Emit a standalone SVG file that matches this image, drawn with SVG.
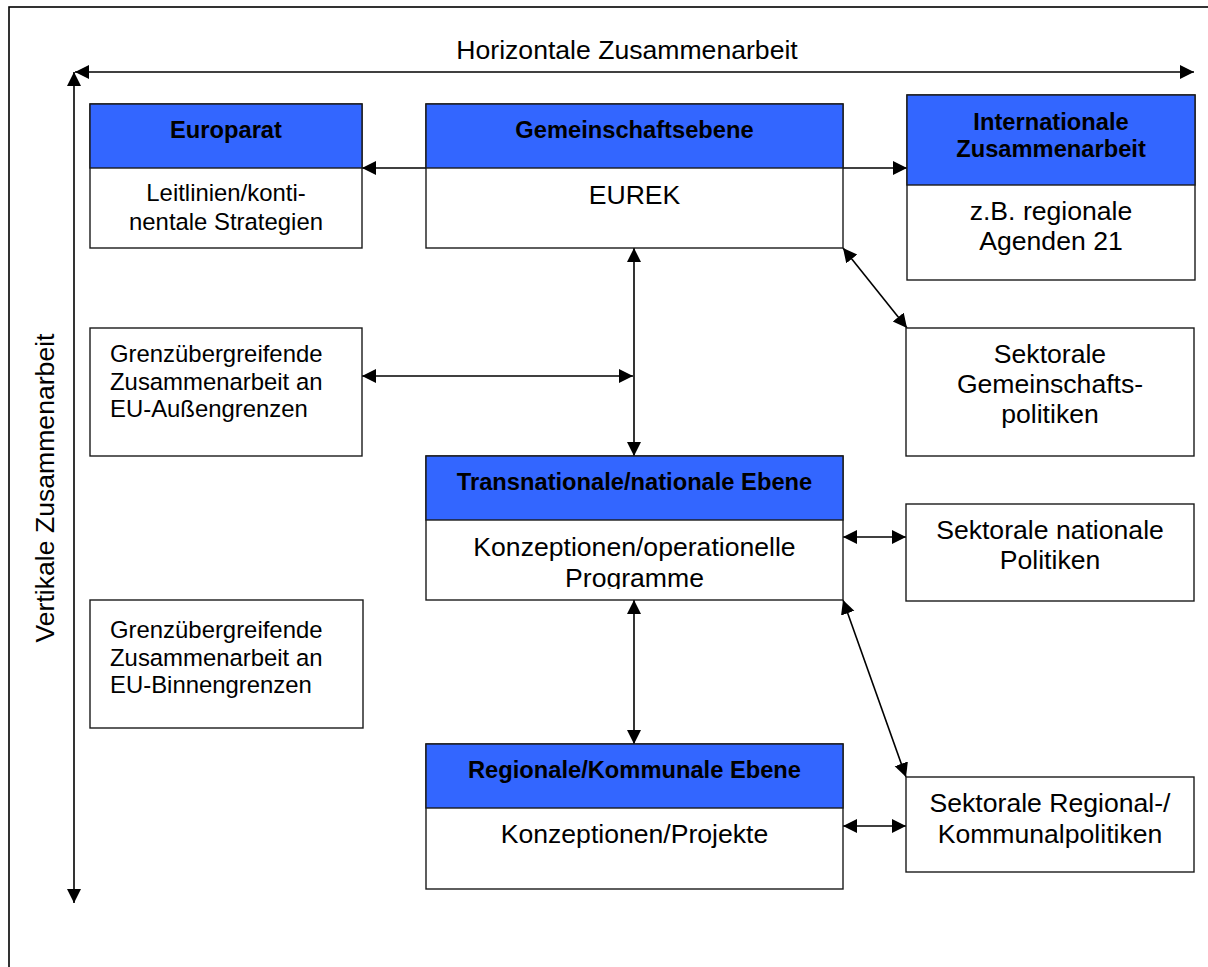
<svg xmlns="http://www.w3.org/2000/svg" width="1208" height="967" viewBox="0 0 1208 967">
  <defs>
    <marker id="head" markerUnits="userSpaceOnUse" markerWidth="15" markerHeight="15" refX="14" refY="7" orient="auto-start-reverse">
      <path d="M0,0 L14,7 L0,14 z" fill="#000"/>
    </marker>
    <clipPath id="clipTrans">
      <rect x="426" y="456" width="417" height="133"/>
    </clipPath>
  </defs>
  <style>
    .frame { fill: none; stroke: #000; stroke-width: 1.6; }
    .box { fill: #fff; stroke: #1a1a1a; stroke-width: 1.4; }
    .head { fill: #3366ff; stroke: #1a1a1a; stroke-width: 1.4; }
    .conn { stroke: #000; stroke-width: 1.6; fill: none; marker-start: url(#head); marker-end: url(#head); }
    .one { stroke: #000; stroke-width: 1.6; fill: none; marker-end: url(#head); }
    .t { font-family: "Liberation Sans", Arial, sans-serif; fill: #000; }
    .b { font-weight: bold; font-size: 23.7px; text-anchor: middle; }
    .r { font-size: 26.6px; text-anchor: middle; }
    .s { font-size: 23.9px; }
  </style>

  <rect width="1208" height="967" fill="#fff"/>
  <!-- outer frame -->
  <rect class="frame" x="9" y="7" width="1230" height="990"/>

  <!-- axis labels -->
  <text class="t r" x="627" y="59">Horizontale Zusammenarbeit</text>
  <text class="t r" transform="translate(54,488) rotate(-90)" x="0" y="0">Vertikale Zusammenarbeit</text>

  <g id="connectors">
    <line class="conn" x1="75" y1="72" x2="1194" y2="72"/>
    <line class="conn" x1="74" y1="72" x2="74" y2="903"/>
    <line class="one" x1="426" y1="168" x2="362" y2="168"/>
    <line class="one" x1="843" y1="168" x2="907" y2="168"/>
    <line class="conn" x1="362" y1="376" x2="633" y2="376"/>
    <line class="conn" x1="634" y1="248" x2="634" y2="456"/>
    <line class="conn" x1="843" y1="248" x2="907" y2="328"/>
    <line class="conn" x1="843" y1="537" x2="906" y2="537"/>
    <line class="conn" x1="634" y1="600" x2="634" y2="744"/>
    <line class="conn" x1="843" y1="600" x2="906" y2="777"/>
    <line class="conn" x1="843" y1="826" x2="906" y2="826"/>
  </g>

  <g id="europarat">
    <rect class="box" x="90" y="104" width="272" height="144"/>
    <rect class="head" x="90" y="104" width="272" height="64"/>
    <text class="t b" x="226" y="137.5">Europarat</text>
    <text class="t s" x="226" y="201" text-anchor="middle">Leitlinien/konti-</text>
    <text class="t s" x="226" y="229.5" text-anchor="middle">nentale Strategien</text>
  </g>

  <g id="gemeinschaftsebene">
    <rect class="box" x="426" y="104" width="417" height="144"/>
    <rect class="head" x="426" y="104" width="417" height="64"/>
    <text class="t b" x="634.5" y="138">Gemeinschaftsebene</text>
    <text class="t r" x="634.5" y="204">EUREK</text>
  </g>

  <g id="internationale">
    <rect class="box" x="907" y="95" width="288" height="185"/>
    <rect class="head" x="907" y="95" width="288" height="90"/>
    <text class="t b" x="1051" y="129.5">Internationale</text>
    <text class="t b" x="1051" y="156.5">Zusammenarbeit</text>
    <text class="t r" x="1051" y="220">z.B. regionale</text>
    <text class="t r" x="1051" y="250">Agenden 21</text>
  </g>

  <g id="aussengrenzen">
    <rect class="box" x="90" y="328" width="272" height="128"/>
    <text class="t s" x="110" y="362.3">Grenzübergreifende</text>
    <text class="t s" x="110" y="389.8">Zusammenarbeit an</text>
    <text class="t s" x="110" y="417.3">EU-Außengrenzen</text>
  </g>

  <g id="sektorale-gemeinschaftspolitiken">
    <rect class="box" x="906" y="328" width="288" height="128"/>
    <text class="t r" x="1050" y="363.3">Sektorale</text>
    <text class="t r" x="1050" y="393.3">Gemeinschafts-</text>
    <text class="t r" x="1050" y="423.3">politiken</text>
  </g>

  <g id="transnationale">
    <rect class="box" x="426" y="456" width="417" height="144"/>
    <rect class="head" x="426" y="456" width="417" height="64"/>
    <text class="t b" x="634.5" y="490">Transnationale/nationale Ebene</text>
    <g clip-path="url(#clipTrans)">
      <text class="t r" x="634.5" y="556">Konzeptionen/operationelle</text>
      <text class="t r" x="634.5" y="586.5">Programme</text>
    </g>
  </g>

  <g id="sektorale-nationale">
    <rect class="box" x="906" y="504" width="288" height="97"/>
    <text class="t r" x="1050" y="539.3">Sektorale nationale</text>
    <text class="t r" x="1050" y="569.3">Politiken</text>
  </g>

  <g id="binnengrenzen">
    <rect class="box" x="90" y="600" width="273" height="128"/>
    <text class="t s" x="110" y="638">Grenzübergreifende</text>
    <text class="t s" x="110" y="665.5">Zusammenarbeit an</text>
    <text class="t s" x="110" y="693">EU-Binnengrenzen</text>
  </g>

  <g id="regionale">
    <rect class="box" x="426" y="744" width="417" height="145"/>
    <rect class="head" x="426" y="744" width="417" height="64"/>
    <text class="t b" x="634.5" y="778.3">Regionale/Kommunale Ebene</text>
    <text class="t r" x="634.5" y="843.3">Konzeptionen/Projekte</text>
  </g>

  <g id="sektorale-regional">
    <rect class="box" x="906" y="777" width="288" height="95"/>
    <text class="t r" x="1050" y="811.7">Sektorale Regional-/</text>
    <text class="t r" x="1050" y="842.7">Kommunalpolitiken</text>
  </g>
</svg>
